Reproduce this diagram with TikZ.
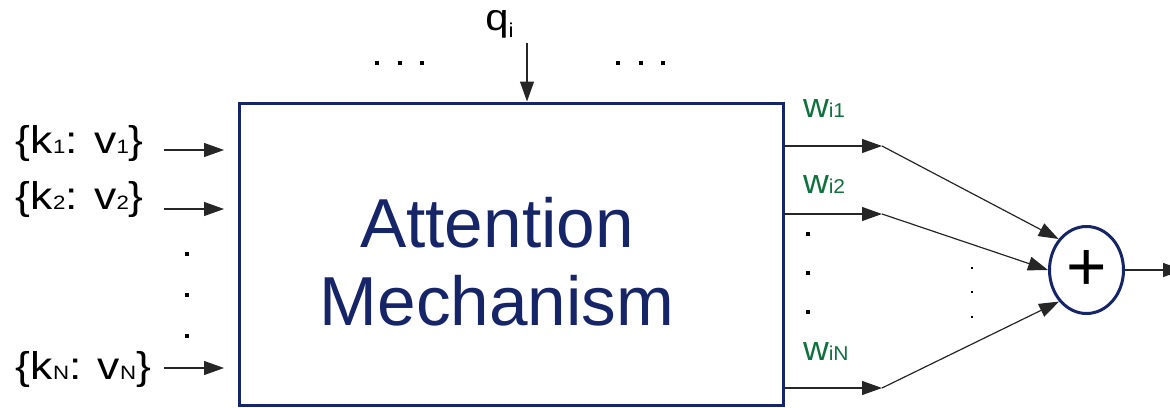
\documentclass[tikz,border=0pt]{standalone}
\usepackage{fontspec}
\setmainfont{Liberation Sans}
\newfontfamily\widefont[FakeStretch=1.15]{Liberation Sans}
\newfontfamily\qfont[FakeStretch=1.12]{Liberation Sans}
\newfontfamily\wfont[FakeStretch=1.05]{Liberation Sans}
\usetikzlibrary{arrows.meta,shapes.geometric}
\definecolor{navy}{RGB}{22,36,104}
\definecolor{wgreen}{RGB}{16,112,62}
\newcommand\mysub[3]{\raisebox{#2}{\fontsize{#1}{#1}\selectfont #3}}
\begin{document}
\begin{tikzpicture}[x=0.75pt,y=-0.75pt,
  conn/.style={draw=black!85, line width=0.9pt, -{Triangle[length=15pt,width=10.5pt]}},
  lbl/.style={inner sep=0pt, outer sep=0pt, font={\widefont\fontsize{29}{32}\selectfont}},
  wlbl/.style={inner sep=0pt, outer sep=0pt, text=wgreen, font={\wfont\fontsize{25.5}{28}\selectfont}},
  bigdot/.style={fill=black},
]
\useasboundingbox (0,0) rectangle (1170,407);

% main box
\node[draw=navy, line width=2.25pt, minimum width=408pt, minimum height=226.5pt, inner sep=0pt]
  (box) at (511,254) {};
\node[text=navy, font=\fontsize{52}{58.5}\selectfont, align=center, inner sep=0pt]
  (title) at (497,262) {Attention\\Mechanism};

% inputs
\node[lbl, anchor=base west] (k1) at (16,153) {\{k\mysub{14.5}{0pt}{1}: v\mysub{14.5}{0pt}{1}\}};
\node[lbl, anchor=base west] (k2) at (16,209) {\{k\mysub{14.5}{0pt}{2}: v\mysub{14.5}{0pt}{2}\}};
\node[lbl, anchor=base west] (kN) at (16,379) {\{k\mysub{14.5}{0pt}{N}: v\mysub{14.5}{0pt}{N}\}};
\coordinate (a1s) at (164,150); \coordinate (a1e) at (224,150);
\coordinate (a2s) at (164,209); \coordinate (a2e) at (224,209);
\coordinate (aNs) at (164,368); \coordinate (aNe) at (224,368);
\draw[conn] (a1s) -- (a1e);
\draw[conn] (a2s) -- (a2e);
\draw[conn] (aNs) -- (aNe);
\foreach \y in {252,293,334} \fill[bigdot] (185,\y) rectangle (189,\y+4);

% query
\node[anchor=base west, inner sep=0pt, font={\qfont\fontsize{28}{30}\selectfont}] (q) at (485,31)
  {q\mysub{15}{-5pt}{i}};
\coordinate (qs) at (527,43);
\draw[conn] (qs) -- (qs |- box.north);
\foreach \x in {377,400,422,618,641,663} \fill[bigdot] (\x-2,61) rectangle (\x+2,65);

% outputs
\coordinate (o1) at (882,146);
\coordinate (o2) at (882,214);
\coordinate (oN) at (882,388);
\draw[conn] (box.east |- o1) -- (o1);
\draw[conn] (box.east |- o2) -- (o2);
\draw[conn] (box.east |- oN) -- (oN);
\node[wlbl, anchor=base west] (w1) at (803,117) {w\mysub{15}{0pt}{i1}};
\node[wlbl, anchor=base west] (w2) at (803,193) {w\mysub{15}{0pt}{i2}};
\node[wlbl, anchor=base west] (wN) at (803,360) {w\mysub{15}{0pt}{iN}};
\foreach \y in {234,273,312} \fill[bigdot] (806,\y-2) rectangle (810,\y+2);
\foreach \y in {268,292,317} \fill[bigdot] (971,\y-1) rectangle (973,\y+1);

% sum
\node[ellipse, draw=navy, line width=2.25pt, minimum width=55.5pt, minimum height=65.25pt,
  inner sep=0pt, font=\fontsize{52}{52}\selectfont] (sum) at (1086.5,270) {+};
\draw[conn] (o1) -- (sum.132);
\draw[conn] (o2) -- (sum.180);
\draw[conn] (oN) -- (sum.-131);
\coordinate (out) at (1183,270);
\draw[conn] (sum.east) -- (out);
\end{tikzpicture}
\end{document}
